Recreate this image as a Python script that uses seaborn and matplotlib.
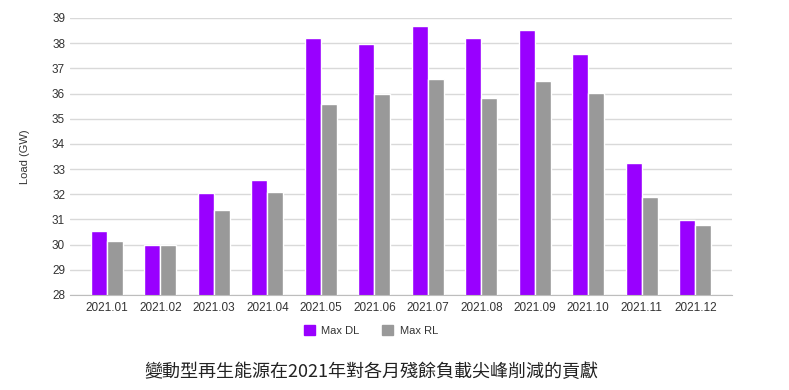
import pandas as pd
import matplotlib.pyplot as plt
import seaborn as sns

# dati
mesi = ["2021.01", "2021.02", "2021.03", "2021.04", "2021.05", "2021.06",
        "2021.07", "2021.08", "2021.09", "2021.10", "2021.11", "2021.12"]
max_dl = [30.54, 29.97, 32.05, 32.56, 38.21, 37.96, 38.67, 38.21, 38.52, 37.56, 33.23, 30.96]
max_rl = [30.15, 29.97, 31.39, 32.07, 35.59, 35.98, 36.56, 35.83, 36.49, 36.03, 31.89, 30.78]
serie = ["Max DL", "Max RL"]
colori = ["#9900ff", "#999999"]
didascalia = "變動型再生能源在2021年對各月殘餘負載尖峰削減的貢獻"

df = pd.DataFrame({"Mese": mesi * 2,
                   "Load": max_dl + max_rl,
                   "Serie": [serie[0]] * len(mesi) + [serie[1]] * len(mesi)})

sns.set_style("white")
plt.rcParams['font.family'] = ['Liberation Sans', 'Noto Sans CJK TC', 'DejaVu Sans']

fig = plt.figure(figsize=(7.89, 3.90), dpi=100)
ax = fig.add_axes([0.0887, 0.2436, 0.8393, 0.7104])

sns.barplot(data=df, x="Mese", y="Load", hue="Serie", palette=colori,
            width=0.6, edgecolor="white", linewidth=1.0, saturation=1, ax=ax)

ax.set_ylim(28, 39)
ax.set_yticks(range(28, 40))
ax.set_xlim(-0.69, 11.69)
ax.yaxis.grid(True, color="#d9d9d9", linewidth=1)
ax.set_axisbelow(True)
for s in ["top", "right", "left"]:
    ax.spines[s].set_visible(False)
ax.spines["bottom"].set_color("#bdbdbd")
ax.tick_params(axis="both", length=0, labelsize=8.5, colors="#333333")
ax.tick_params(axis="x", pad=5)
ax.set_xlabel("")
ax.set_ylabel("Load (GW)", fontsize=8, color="#333333", labelpad=16)

ax.get_legend().remove()
handles = [plt.Rectangle((0, 0), 1, 1, color=c) for c in colori]
fig.legend(handles, serie, loc="center", bbox_to_anchor=(0.47, 0.153), ncol=2,
           frameon=False, fontsize=8, handlelength=1.0, handleheight=1.0,
           columnspacing=2.0, handletextpad=0.6, labelcolor="#333333")

fig.text(0.47, 0.045, didascalia, ha="center", va="center", fontsize=13,
         style="italic", color="#222222",
         family=['Noto Sans CJK TC', 'DejaVu Sans'])

fig.savefig("out.png", dpi=100)
